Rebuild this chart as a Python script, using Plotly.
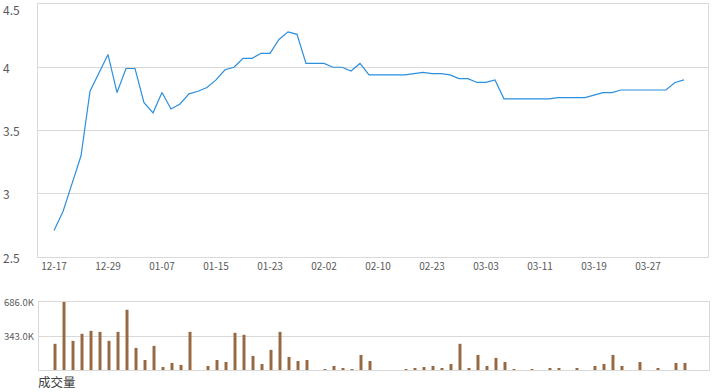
import plotly.graph_objects as go

# ---- data ----
prices = [2.71, 2.86, 3.08, 3.30, 3.81, 3.95, 4.10, 3.80, 3.99, 3.99,
          3.72, 3.64, 3.80, 3.67, 3.71, 3.79, 3.81, 3.84, 3.90, 3.98,
          4.00, 4.07, 4.07, 4.11, 4.11, 4.22, 4.28, 4.26, 4.03, 4.03,
          4.03, 4.00, 4.00, 3.97, 4.03, 3.94, 3.94, 3.94, 3.94, 3.94,
          3.95, 3.96, 3.95, 3.95, 3.94, 3.91, 3.91, 3.88, 3.88, 3.90,
          3.75, 3.75, 3.75, 3.75, 3.75, 3.75, 3.76, 3.76, 3.76, 3.76,
          3.78, 3.80, 3.80, 3.82, 3.82, 3.82, 3.82, 3.82, 3.82, 3.88,
          3.90]

volumes_k = [264, 686, 294, 365, 395, 385, 294, 385, 608, 223,
             101, 243, 30, 71, 51, 385, 0, 41, 101, 81,
             375, 355, 142, 61, 203, 385, 132, 91, 101, 0,
             10, 41, 20, 10, 152, 91, 0, 0, 0, 10,
             20, 30, 41, 20, 61, 264, 20, 152, 41, 122,
             81, 10, 0, 10, 0, 20, 20, 0, 20, 0,
             41, 61, 152, 41, 0, 81, 0, 20, 0, 71,
             71]

date_tick_pos = [0, 6, 12, 18, 24, 30, 36, 42, 48, 54, 60, 66]
date_tick_text = ["12-17", "12-29", "01-07", "01-15", "01-23", "02-02",
                  "02-10", "02-23", "03-03", "03-11", "03-19", "03-27"]

price_ticks = [2.5, 3, 3.5, 4, 4.5]
price_tick_text = ["2.5", "3", "3.5", "4", "4.5"]
vol_ticks = [343000, 686000]
vol_tick_text = ["343.0K", "686.0K"]
volume_title = "成交量"

# ---- figure ----
W, H = 720, 392
x_idx = list(range(len(prices)))
volumes = [v * 1000 for v in volumes_k]

GRID = "#d9d9d9"
TXT = "#595959"
FONT = "Noto Sans CJK SC, Noto Sans, sans-serif"

fig = go.Figure()
fig.add_trace(go.Scatter(x=x_idx, y=prices, mode="lines",
                         line=dict(color="#2b8fde", width=1.2),
                         xaxis="x", yaxis="y", hoverinfo="skip"))
fig.add_trace(go.Bar(x=x_idx, y=volumes, width=0.33,
                     marker=dict(color="#976943", line=dict(width=0)),
                     xaxis="x2", yaxis="y2", hoverinfo="skip"))

xr = [-1.78, 72.67]
x_dom = [38 / W, 708 / W]

fig.update_layout(
    width=W, height=H,
    margin=dict(l=0, r=0, t=0, b=0),
    paper_bgcolor="white", plot_bgcolor="white",
    showlegend=False,
    font=dict(family=FONT, size=10, color=TXT),
    xaxis=dict(domain=x_dom, range=xr, tickmode="array",
               tickvals=date_tick_pos, ticktext=date_tick_text,
               showgrid=False, zeroline=False,
               showline=True, linecolor=GRID, linewidth=1, mirror=True,
               ticks="", tickfont=dict(size=10, color=TXT),
               anchor="y"),
    yaxis=dict(domain=[(H - 257) / H, (H - 4) / H], range=[2.5, 4.5],
               tickmode="array", tickvals=price_ticks, showticklabels=False,
               showgrid=True, gridcolor=GRID, gridwidth=1, zeroline=False,
               showline=True, linecolor=GRID, linewidth=1, mirror=True,
               anchor="x"),
    xaxis2=dict(domain=[39 / W, 709 / W], range=xr, showticklabels=False,
                showgrid=False, zeroline=False, ticks="",
                showline=True, linecolor=GRID, linewidth=1, mirror=True,
                anchor="y2"),
    yaxis2=dict(domain=[(H - 370) / H, (H - 302) / H], range=[0, 686000],
                tickmode="array", tickvals=vol_ticks, showticklabels=False,
                showgrid=True, gridcolor=GRID, gridwidth=1, zeroline=False,
                showline=True, linecolor=GRID, linewidth=1, mirror=True,
                anchor="x2"),
)

annotations = []
for v, t in zip(price_ticks, price_tick_text):
    top = (v == max(price_ticks))
    annotations.append(dict(x=2 / W, xref="paper",
                            y=(1.0 if top else v), yref=("paper" if top else "y"),
                            text=t, showarrow=False, xanchor="left",
                            yanchor=("top" if top else "middle"),
                            borderpad=0,
                            font=dict(size=12, color=TXT, family=FONT)))
for v, t in zip(vol_ticks, vol_tick_text):
    annotations.append(dict(x=2 / W, xref="paper", y=v, yref="y2", text=t,
                            showarrow=False, xanchor="left", yanchor="middle",
                            font=dict(size=9.5, color=TXT, family=FONT)))
annotations.append(dict(x=37 / W, xref="paper", y=0, yref="paper",
                        text=volume_title, showarrow=False, xanchor="left",
                        yanchor="bottom", borderpad=0,
                        font=dict(size=12.5, color="#404040", family=FONT)))
fig.update_layout(annotations=annotations)

fig.write_html("out.html")
